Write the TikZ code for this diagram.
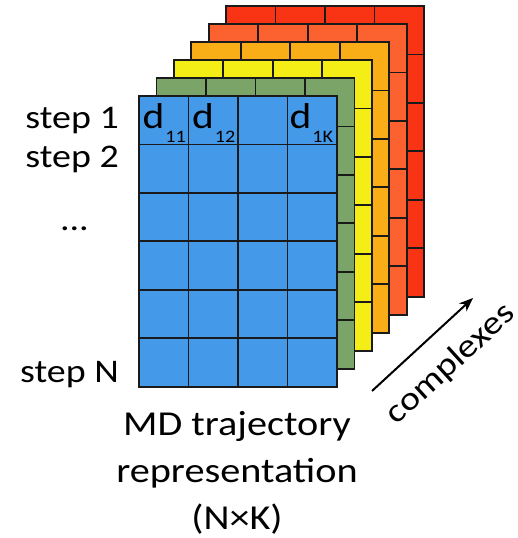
\documentclass[tikz,border=0pt]{standalone}
\usepackage{fontspec}
\setmainfont{Carlito}[FakeStretch=1.15]
\usetikzlibrary{arrows.meta}

\definecolor{cblue}{HTML}{4499E8}
\definecolor{cgreen}{HTML}{7BA468}
\definecolor{cyellow}{HTML}{F5EE16}
\definecolor{camber}{HTML}{F9AE17}
\definecolor{corange}{HTML}{FB6230}
\definecolor{cred}{HTML}{F93414}
\definecolor{gridink}{HTML}{1A1A1A}

% subscript of a cell entry, set low and to the right of the "d"
\newcommand\cellsub[1]{\kern1pt\raisebox{-14pt}{\fontsize{17.5}{17.5}\selectfont #1}}

\begin{document}
\begin{tikzpicture}[x=1pt,y=-1pt,
  gridline/.style={draw=gridink,line width=1.8pt,line join=miter},
  steplabel/.style={anchor=base east,inner sep=0pt,font=\fontsize{33}{33}\selectfont},
  entry/.style={anchor=base west,inner sep=0pt,font=\fontsize{36}{36}\selectfont},
  caption/.style={inner sep=0pt,align=center,font=\fontsize{35}{47}\selectfont},
]
\useasboundingbox (0,0) rectangle (518,538);

% six stacked 6x4 grids, back to front, each shifted up and to the right
\foreach \i/\col in {5/cred,4/corange,3/camber,2/cyellow,1/cgreen,0/cblue}{
  \begin{scope}[shift={(17.4*\i,-18*\i)}]
    \path[gridline,fill=\col] (139,96) rectangle (337,386.7);
    \foreach \k in {1,2,3}
      \draw[gridline] (139+49.5*\k,96) -- (139+49.5*\k,386.7);
    \foreach \j in {1,...,5}
      \draw[gridline] (139,96+48.45*\j) -- (337,96+48.45*\j);
  \end{scope}
}

% entries of the first row
\node[entry] (d11) at (142.5,128) {d\cellsub{11}};
\node[entry] (d12) at (192,128) {d\cellsub{12}};
\node[entry] (d1K) at (289.5,128) {d\cellsub{1K}};

% row labels
\node[steplabel] (s1) at (119,128) {step 1};
\node[steplabel] (s2) at (119,167) {step 2};
\node[steplabel] (sdots) at (89,230) {...};
\node[steplabel] (sN) at (119,382) {step N};

% caption under the grid
\node[caption,anchor=base] (cap) at (237,529) {MD trajectory\\representation\\(N×K)};

% direction of the stack
\coordinate (ctail) at (372,391);
\coordinate (chead) at (473,298);
\draw[line width=2pt,-{Stealth[length=14pt,width=11pt]}] (ctail) -- (chead);
\node[inner sep=0pt,rotate=42.3,font=\fontsize{33}{33}\selectfont] (cplx) at (451,364) {complexes};
\end{tikzpicture}
\end{document}
